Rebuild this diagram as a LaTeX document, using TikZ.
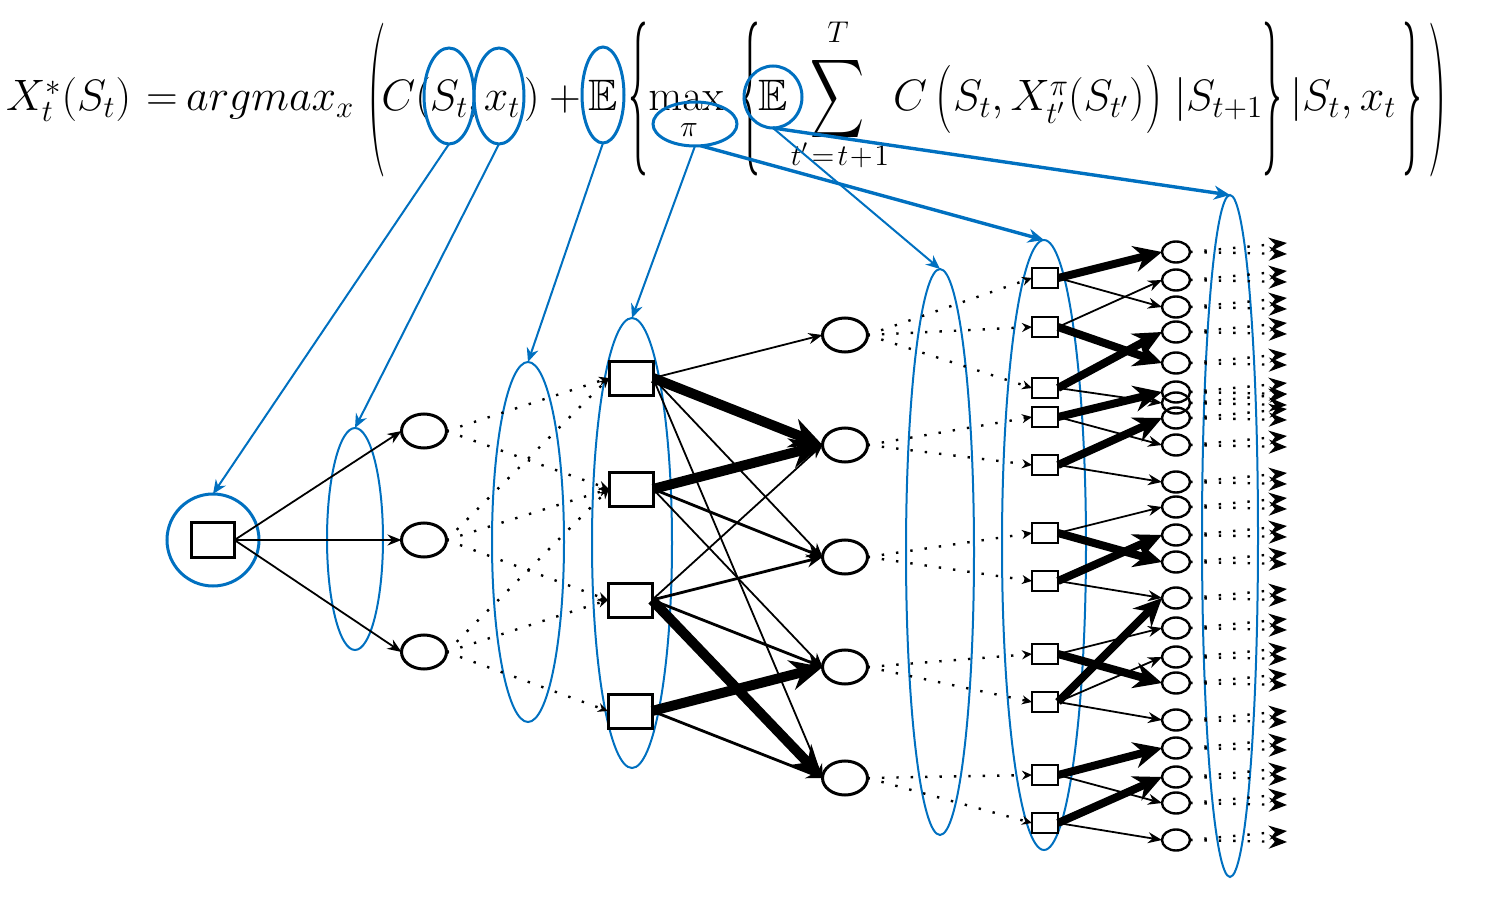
\RequirePackage{fix-cm}
\documentclass[tikz,border=0pt]{standalone}
\usepackage{amssymb}
\usepackage{graphicx}
\usetikzlibrary{arrows.meta,shapes.geometric}
\definecolor{obl}{RGB}{0,112,192}
\newcommand\fsz{\fontsize{22}{26}\selectfont}
\newcommand\ssz{\fontsize{15}{18}\selectfont}
\newcommand\sdel[3]{\scalebox{#2}[#3]{$#1$}}
\begin{document}
\begin{tikzpicture}[x=0.5pt,y=-0.5pt,
  every node/.style={inner sep=0pt, outer sep=0pt},
  ftxt/.style={font=\fsz, anchor=base},
  fdel/.style={font=\fsz},
  fell/.style={draw=obl, line width=1.5pt, ellipse},
  bell/.style={draw=obl, line width=1pt, ellipse},
  barr/.style={draw=obl, line width=1pt, -{Stealth[length=7pt,width=6pt]}},
  barrk/.style={draw=obl, line width=1.7pt, -{Stealth[length=8pt,width=7pt]}},
  decbox/.style={draw, line width=1.5pt, rectangle, minimum width=22pt, minimum height=17pt},
  decsmall/.style={draw, line width=1.3pt, rectangle, minimum width=13pt, minimum height=10pt},
  chance/.style={draw, line width=1.5pt, ellipse, minimum width=22.5pt, minimum height=17pt},
  chsmall/.style={draw, line width=1.2pt, ellipse, minimum width=14pt, minimum height=10.5pt},
  tarr/.style={line width=0.9pt, -{Stealth[length=7pt,width=5.5pt]}},
  marr/.style={line width=1.4pt, -{Stealth[length=8pt,width=6.5pt]}},
  karr/.style={line width=5pt, -{Stealth[length=16pt,width=15pt]}},
  karrs/.style={line width=4pt, -{Stealth[length=14pt,width=13pt]}},
  darr/.style={line width=1.2pt, dash pattern=on 1.2pt off 6pt, -{Stealth[length=5pt,width=4.5pt]}},
  darrb/.style={line width=1.2pt, dash pattern=on 1.2pt off 6pt, -{Stealth[length=9pt,width=7pt]}}
]
\useasboundingbox (0,0) rectangle (1485,904);

% ---------------- formula ----------------
\node[ftxt, anchor=base west] (fX) at (6,111) {$X_t^{*}(S_t)$};
\node[ftxt] (feq) at (162,111) {$=$};
\node[ftxt, anchor=base west] (farg) at (186,111) {$argmax_x$};
\node[fdel] (fP1) at (377,100) {\sdel{(}{1.2}{3.5}};
\node[ftxt, anchor=base east] (fC1) at (431,111) {$C($};
\node[ftxt] (fS1) at (449,111) {$S_t$};
\node[ftxt] (fc1) at (473,111) {$,$};
\node[ftxt] (fx1) at (502,111) {$x_t$};
\node[ftxt, anchor=base west] (fP2) at (524,111) {$)$};
\node[ftxt] (fplus) at (565,111) {$+$};
\node[ftxt] (fE1) at (603,111) {$\mathbb{E}$};
\node[fdel] (fB1) at (638,99) {\sdel{\{}{0.9}{3.5}};
\node[ftxt] (fmax) at (686,111) {$\max$};
\node[font=\ssz] (fpi) at (689,130) {$\pi$};
\node[fdel] (fB2) at (750,99) {\sdel{\{}{0.9}{3.5}};
\node[ftxt] (fE2) at (773,111) {$\mathbb{E}$};
\node[font=\fsz] (fsum) at (838,99) {\scalebox{0.85}[1.25]{$\displaystyle\sum$}};
\node[font=\ssz] (fT) at (838,32) {$T$};
\node[font=\ssz] (flim) at (840,155) {$t'\!=\!t\!+\!1$};
\node[ftxt] (fC2) at (910,111) {$C$};
\node[fdel] (fP3) at (944,99) {\sdel{(}{1.1}{1.55}};
\node[ftxt, anchor=base west] (fSX) at (953,111) {$S_t, X^{\pi}_{t'}$};
\node[ftxt, anchor=base west] (fSt2) at (1068,111) {$(S_{t'})$};
\node[fdel] (fP4) at (1154,99) {\sdel{)}{1.1}{1.55}};
\node[ftxt, anchor=base west] (fbar1) at (1174,111) {$|S_{t+1}$};
\node[fdel] (fB3) at (1272,99) {\sdel{\}}{0.9}{3.5}};
\node[ftxt, anchor=base west] (fbar2) at (1290,111) {$|S_t, x_t$};
\node[fdel] (fB4) at (1412,99) {\sdel{\}}{0.9}{3.5}};
\node[fdel] (fP5) at (1438,100) {\sdel{)}{1.2}{3.5}};

% formula highlight ellipses
\node[fell, minimum width=25pt, minimum height=48pt] (eS) at (449,96) {};
\node[fell, minimum width=25pt, minimum height=48pt] (ex) at (499,96) {};
\node[fell, minimum width=21pt, minimum height=48pt] (eE1) at (603,95) {};
\node[fell, minimum width=42pt, minimum height=22pt] (epi) at (695,124) {};
\node[fell, minimum width=29pt, minimum height=31pt] (eE2) at (773,97) {};

% ---------------- blue group ellipses ----------------
\node[draw=obl, line width=1.5pt, circle, minimum size=46pt] (broot) at (213,540) {};
\node[bell, minimum width=28pt, minimum height=111pt] (b2) at (355,539) {};
\node[bell, minimum width=36pt, minimum height=180pt] (b3) at (528,542) {};
\node[bell, minimum width=40pt, minimum height=225pt] (b4) at (632,543) {};
\node[bell, minimum width=34pt, minimum height=283pt] (b6) at (940,552) {};
\node[bell, minimum width=42pt, minimum height=305pt] (b7) at (1044,545) {};
\node[bell, minimum width=28pt, minimum height=341pt] (b8) at (1230,536) {};

% blue arrows
\draw[barr] (eS.south) -- (broot.north);
\draw[barr] (ex.south) -- (b2.north);
\draw[barr] (eE1.south) -- (b3.north);
\draw[barr] (epi.south) -- (b4.north);
\draw[barrk] (epi.-75) -- (b7.north);
\draw[barr] (eE2.south) -- (b6.north);
\draw[barrk] (eE2.south) -- (b8.north);

% ---------------- tree ----------------
\node[draw, line width=1.4pt, rectangle, minimum width=21.5pt, minimum height=17.5pt] (r0) at (213,540) {};
\node[chance] (a1) at (424,431) {};
\node[chance] (a2) at (424,540) {};
\node[chance] (a3) at (424,652) {};
\draw[tarr] (r0.east) -- (a1.west);
\draw[tarr] (r0.east) -- (a2.west);
\draw[tarr] (r0.east) -- (a3.west);

\node[decbox] (s1) at (631,378) {};
\node[decbox] (s2) at (631,489) {};
\node[decbox] (s3) at (630,600) {};
\node[decbox] (s4) at (630,711) {};
\draw[darr] (a1.east) -- (s1.west);
\draw[darr] (a1.east) -- (s2.west);
\draw[darr] (a2.east) -- (s1.west);
\draw[darr] (a2.east) -- (s2.west);
\draw[darr] (a2.east) -- (s3.west);
\draw[darr] (a3.east) -- (s2.west);
\draw[darr] (a3.east) -- (s3.west);
\draw[darr] (a3.east) -- (s4.west);

\node[chance] (e1) at (845,335) {};
\node[chance] (e2) at (845,445) {};
\node[chance] (e3) at (845,557) {};
\node[chance] (e4) at (845,667) {};
\node[chance] (e5) at (845,778) {};
\draw[tarr] (s1.east) -- (e1.west);
\draw[karr] (s1.east) -- (e2.west);
\draw[tarr] (s1.east) -- (e3.west);
\draw[tarr] (s1.east) -- (e5.west);
\draw[karr] (s2.east) -- (e2.west);
\draw[marr] (s2.east) -- (e3.west);
\draw[tarr] (s2.east) -- (e4.west);
\draw[tarr] (s3.east) -- (e2.west);
\draw[marr] (s3.east) -- (e3.west);
\draw[marr] (s3.east) -- (e4.west);
\draw[karr] (s3.east) -- (e5.west);
\draw[karr] (s4.east) -- (e4.west);
\draw[marr] (s4.east) -- (e5.west);

\foreach \y [count=\i] in {278,327,388,417,465,533,581,654,702,775,823}
  \node[decsmall] (d\i) at (1045,\y) {};
\draw[darr] (e1.east) -- (d1.west);
\draw[darr] (e1.east) -- (d2.west);
\draw[darr] (e1.east) -- (d3.west);
\draw[darr] (e2.east) -- (d4.west);
\draw[darr] (e2.east) -- (d5.west);
\draw[darr] (e3.east) -- (d6.west);
\draw[darr] (e3.east) -- (d7.west);
\draw[darr] (e4.east) -- (d8.west);
\draw[darr] (e4.east) -- (d9.west);
\draw[darr] (e5.east) -- (d10.west);
\draw[darr] (e5.east) -- (d11.west);

\foreach \y [count=\i] in {252,280,307,332,363,392,403,418,445,482,507,535,562,598,628,657,683,720,748,777,803,840}{
  \node[chsmall] (c\i) at (1176,\y) {};
  \coordinate (ra\i) at (1287,\y-9);
  \coordinate (rb\i) at (1287,\y+2);
  \draw[darrb] (c\i.east) -- (ra\i);
  \draw[darrb] (c\i.east) -- (rb\i);
}
\draw[karrs] (d1.east) -- (c1.west);
\draw[tarr] (d1.east) -- (c3.west);
\draw[tarr] (d2.east) -- (c2.west);
\draw[karrs] (d2.east) -- (c5.west);
\draw[karrs] (d3.east) -- (c4.west);
\draw[tarr] (d3.east) -- (c7.west);
\draw[karrs] (d4.east) -- (c6.west);
\draw[tarr] (d4.east) -- (c9.west);
\draw[karrs] (d5.east) -- (c8.west);
\draw[tarr] (d5.east) -- (c10.west);
\draw[tarr] (d6.east) -- (c11.west);
\draw[karrs] (d6.east) -- (c13.west);
\draw[karrs] (d7.east) -- (c12.west);
\draw[tarr] (d7.east) -- (c14.west);
\draw[tarr] (d8.east) -- (c15.west);
\draw[karrs] (d8.east) -- (c17.west);
\draw[karrs] (d9.east) -- (c14.west);
\draw[tarr] (d9.east) -- (c16.west);
\draw[tarr] (d9.east) -- (c18.west);
\draw[karrs] (d10.east) -- (c19.west);
\draw[tarr] (d10.east) -- (c21.west);
\draw[karrs] (d11.east) -- (c20.west);
\draw[tarr] (d11.east) -- (c22.west);
\end{tikzpicture}
\end{document}
